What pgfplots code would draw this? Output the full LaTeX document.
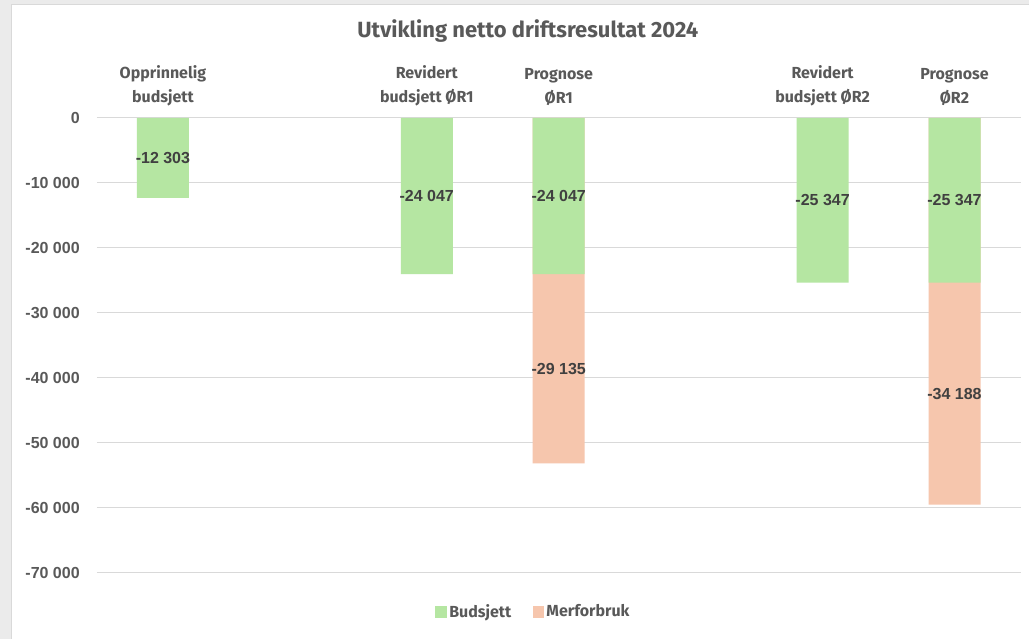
\documentclass[border=0pt]{standalone}
\usepackage{fontspec}
\setmainfont{Liberation Sans}
\newfontfamily\aptos{Fira Sans}
\usepackage{pgfplots}
\pgfplotsset{compat=1.18}
\usepackage{pgfplotstable}
\definecolor{bud}{HTML}{B5E6A2}
\definecolor{mer}{HTML}{F6C6AD}
\definecolor{txt}{HTML}{595959}
\definecolor{lbl}{HTML}{404040}
\definecolor{grd}{HTML}{D9D9D9}

\pgfplotstableread{
x b
0 -12303
2 -24047
3 -24047
5 -25347
6 -25347
}\bdata
\pgfplotstableread{
x b m
3 -24047 -29135
6 -25347 -34188
}\mdata

\begin{document}
\begin{tikzpicture}[x=0.75pt,y=0.75pt]
\fill[black!8] (0,0) rectangle (1029,639);
\fill[white] (12,0) rectangle (1029,634);
\draw[black!15, line width=0.75pt] (11.5,0) -- (11.5,634.5) -- (1029,634.5);
\path[use as bounding box] (0,0) rectangle (1029,639);
\node[font=\aptos\bfseries\fontsize{16.5}{20}\selectfont, text=txt] at (528,608) {Utvikling netto driftsresultat 2024};
\begin{axis}[
  at={(72.75pt,49.5pt)}, anchor=south west, scale only axis,
  width=693pt, height=341.25pt,
  xmin=-0.5, xmax=6.5, ymin=-70000, ymax=0,
  xtick={0,2,3,5,6},
  xticklabels={Opprinnelig\\budsjett, Revidert\\budsjett ØR1, Prognose\\ØR1, Revidert\\budsjett ØR2, Prognose\\ØR2},
  xticklabel pos=upper,
  xticklabel style={anchor=south, align=center, font=\aptos\bfseries\fontsize{12}{18}\selectfont, text=txt, inner sep=0pt, yshift=9pt},
  ytick={-70000,-60000,...,0},
  ymajorgrids, grid style={grd, line width=0.75pt},
  axis line style={draw=none}, tick style={draw=none},
  scaled y ticks=false,
  /pgf/number format/1000 sep={\ },
  /pgf/number format/assume math mode=true,
  yticklabel style={anchor=east, inner sep=0pt, xshift=-12.75pt, font=\bfseries\fontsize{12}{14}\selectfont, text=txt},
  legend style={at={(0.473,-0.0857)}, anchor=center, draw=none, fill=none, legend columns=2,
    font=\aptos\bfseries\fontsize{12}{14}\selectfont, text=txt,
    /tikz/every even column/.append style={column sep=14pt}},
  legend cell align=left,
]
\addplot[ybar, bar width=39pt, bar shift=0pt, fill=mer, draw=none, forget plot]
  table[x=x, y expr=\thisrow{b}+\thisrow{m}] {\mdata};
\addplot[ybar, bar width=39pt, bar shift=0pt, fill=bud, draw=none, forget plot]
  table[x=x, y=b] {\bdata};
\addplot[draw=none, mark=none, forget plot, point meta=explicit,
  nodes near coords={\pgfmathprintnumber{\pgfplotspointmeta}},
  every node near coord/.append style={anchor=center, font=\bfseries\fontsize{12}{14}\selectfont, text=lbl}]
  table[x=x, y expr=\thisrow{b}/2, meta=b] {\bdata};
\addplot[draw=none, mark=none, forget plot, point meta=explicit,
  nodes near coords={\pgfmathprintnumber{\pgfplotspointmeta}},
  every node near coord/.append style={anchor=center, font=\bfseries\fontsize{12}{14}\selectfont, text=lbl}]
  table[x=x, y expr=\thisrow{b}+\thisrow{m}/2, meta=m] {\mdata};
\addlegendimage{legend image code/.code={\fill[bud] (0pt,-4pt) rectangle (8pt,4pt);}}
\addlegendentry{Budsjett}
\addlegendimage{legend image code/.code={\fill[mer] (0pt,-4pt) rectangle (8pt,4pt);}}
\addlegendentry{Merforbruk}
\end{axis}
\end{tikzpicture}
\end{document}
